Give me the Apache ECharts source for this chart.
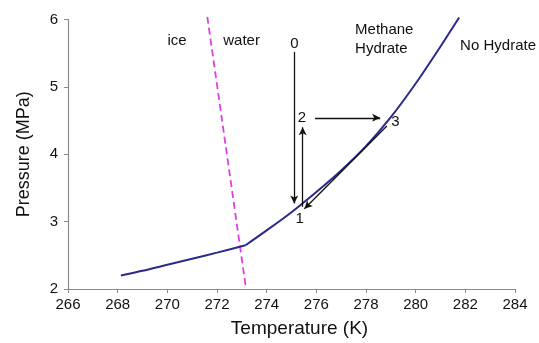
<!DOCTYPE html>
<html>
<head>
<meta charset="utf-8">
<script src="https://cdn.jsdelivr.net/npm/echarts@6/dist/echarts.min.js"></script>
<style>
html,body{margin:0;padding:0;background:#fff;}
#chart{width:539px;height:343px;}
</style>
</head>
<body>
<div id="chart"></div>
<script>
// Tick labels
const xTicks = [266, 268, 270, 272, 274, 276, 278, 280, 282, 284];
const yTicks = [2, 3, 4, 5, 6];

// Hydrate equilibrium curve: ice branch
const iceT = [268.13, 269, 270, 271, 272, 273.15];
const iceP = [2.20, 2.27, 2.36, 2.45, 2.54, 2.65];
// Hydrate equilibrium curve: water branch
const waterT = [273.15, 274, 275, 276, 277, 278, 279, 280, 281, 281.75];
const waterP = [2.65, 2.87, 3.14, 3.44, 3.76, 4.12, 4.55, 5.05, 5.60, 6.03];

// Ice / water boundary (dashed)
const meltT = [271.61, 273.17];
const meltP = [6.04, 2.00];

// Process arrows 0->1, 1->2, 2->3, 3->1
const arrowStartT = [275.11, 275.45, 275.95, 278.84];
const arrowStartP = [5.52, 3.22, 4.54, 4.42];
const arrowEndT = [275.11, 275.45, 278.57, 275.52];
const arrowEndP = [3.27, 4.40, 4.54, 3.19];

// Annotations (text with data anchors)
const annotationText = ['ice', 'water', '0', '1', '2', '3', 'Methane', 'Hydrate', 'No Hydrate'];
const annotationT = [270.39, 272.99, 275.12, 275.33, 275.42, 279.18, 277.56, 277.56, 281.79];
const annotationP = [5.69, 5.69, 5.64, 3.04, 4.54, 4.48, 5.84, 5.57, 5.61];
const annotationAlign = ['center', 'center', 'center', 'center', 'center', 'center', 'left', 'left', 'left'];

const FONT = 'Liberation Sans, Arial, sans-serif';
const chart = echarts.init(document.getElementById('chart'), null, {renderer: 'canvas'});

const iceData = iceT.map((t, i) => [t, iceP[i]]);
const waterData = waterT.map((t, i) => [t, waterP[i]]);
const meltData = meltT.map((t, i) => [t, meltP[i]]);
const arrowData = arrowStartT.map((t, i) => [
  {coord: [t, arrowStartP[i]]},
  {coord: [arrowEndT[i], arrowEndP[i]]}
]);
const annotationData = annotationText.map((s, i) => ({
  name: s,
  value: [annotationT[i], annotationP[i]],
  label: {align: annotationAlign[i]}
}));

const curveStyle = {color: '#2a2a8c', width: 2};

chart.setOption({
  animation: false,
  backgroundColor: '#ffffff',
  textStyle: {fontFamily: FONT},
  grid: {left: 68, right: 24, top: 19.5, bottom: 52},
  xAxis: {
    type: 'value',
    min: xTicks[0], max: xTicks[xTicks.length - 1], interval: 2,
    name: 'Temperature (K)', nameLocation: 'middle', nameGap: 30,
    nameTextStyle: {fontSize: 19, color: '#111', fontFamily: FONT, padding: [0, 0, 0, 16]},
    axisLine: {lineStyle: {color: '#8a8a8a', width: 1.2}},
    axisTick: {show: true, length: 4, inside: false, lineStyle: {color: '#8a8a8a'}},
    axisLabel: {fontSize: 15, color: '#111', margin: 8, fontFamily: FONT},
    splitLine: {show: false}
  },
  yAxis: {
    type: 'value',
    min: yTicks[0], max: yTicks[yTicks.length - 1], interval: 1,
    name: 'Pressure (MPa)', nameLocation: 'middle', nameGap: 35,
    nameTextStyle: {fontSize: 18, color: '#111', fontFamily: FONT},
    axisLine: {show: true, lineStyle: {color: '#8a8a8a', width: 1.2}},
    axisTick: {show: true, length: 4, inside: false, lineStyle: {color: '#8a8a8a'}},
    axisLabel: {fontSize: 15, color: '#111', margin: 10, fontFamily: FONT},
    splitLine: {show: false}
  },
  series: [
    {
      type: 'line',
      data: meltData,
      symbol: 'none',
      clip: false,
      lineStyle: {color: '#e040e0', width: 1.8, type: [7, 4]},
      z: 2
    },
    {
      type: 'line',
      data: iceData,
      symbol: 'none',
      clip: false,
      smooth: 0.3,
      lineStyle: curveStyle,
      z: 3
    },
    {
      type: 'line',
      data: waterData,
      symbol: 'none',
      clip: false,
      smooth: 0.3,
      lineStyle: curveStyle,
      z: 3
    },
    {
      type: 'line',
      data: [],
      silent: true,
      markLine: {
        silent: true,
        animation: false,
        symbol: ['none', 'arrow'],
        symbolSize: [6, 8],
        label: {show: false},
        lineStyle: {color: '#111', width: 1.3, type: 'solid'},
        emphasis: {disabled: true},
        data: arrowData
      },
      z: 4
    },
    {
      type: 'scatter',
      data: annotationData,
      symbolSize: 0,
      clip: false,
      silent: true,
      itemStyle: {color: '#000', opacity: 1},
      label: {
        show: true,
        position: 'inside',
        formatter: p => p.name,
        fontSize: 15,
        color: '#111',
        opacity: 1,
        textBorderWidth: 0,
        fontFamily: FONT,
        verticalAlign: 'middle'
      },
      z: 5
    }
  ]
});
</script>
</body>
</html>
